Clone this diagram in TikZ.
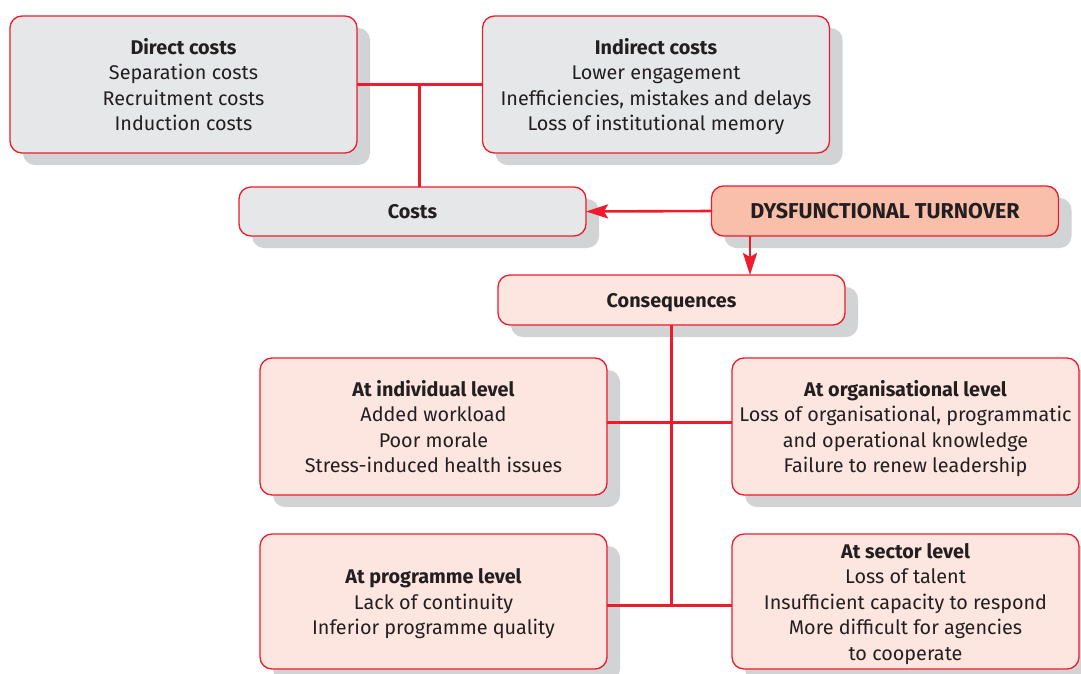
\documentclass[tikz,border=0pt]{standalone}
\usepackage{fontspec}
\setmainfont{Fira Sans}
\usetikzlibrary{shadows,arrows.meta,calc}
\definecolor{lineRed}{HTML}{EC1C2D}
\definecolor{boxGray}{HTML}{E6E7E8}
\definecolor{shadowGray}{HTML}{D1D3D4}
\definecolor{boxPink}{HTML}{FDE6DF}
\definecolor{boxSalmon}{HTML}{F9BFAB}
\definecolor{txt}{HTML}{231F20}
\tikzset{
  basebox/.style={rectangle, rounded corners=12pt, draw=lineRed, line width=1.3pt,
    inner sep=0pt, outer sep=0pt, align=center, text=txt, text depth=0pt,
    font=\fontsize{19.8}{25.5}\selectfont,
    drop shadow={shadow xshift=13pt, shadow yshift=-12pt, fill=shadowGray, opacity=1}},
  graybox/.style={basebox, fill=boxGray},
  pinkbox/.style={basebox, fill=boxPink},
  salmonbox/.style={basebox, fill=boxSalmon},
  bigbox/.style={minimum width=347pt, minimum height=137pt},
  smallbox/.style={minimum width=347pt, minimum height=49pt},
  conn/.style={draw=lineRed, line width=2.6pt},
  arr/.style={conn, -{Stealth[length=22pt,width=14pt,inset=4pt]}},
}
\begin{document}
\begin{tikzpicture}[x=1pt,y=-1pt]
\useasboundingbox (0,0) rectangle (1081,673);
\node[graybox,bigbox] (dc) at (183.5,84.5) {\textbf{Direct costs}\\Separation costs\\Recruitment costs\\Induction costs};
\node[graybox,bigbox] (ic) at (656,84.5) {\textbf{Indirect costs}\\Lower engagement\\Inefficiencies, mistakes and delays\\Loss of institutional memory};
\node[graybox,smallbox] (costs) at (412.5,211.5) {\textbf{Costs}};
\node[salmonbox,smallbox,minimum height=50pt,font=\fontsize{21.5}{25.5}\selectfont] (dt) at (885,211) {\textbf{DYSFUNCTIONAL TURNOVER}};
\node[pinkbox,smallbox,minimum height=50pt] (cons) at (671.5,300) {\textbf{Consequences}};
\node[pinkbox,bigbox] (ind) at (433.5,426.5) {\textbf{At individual level}\\Added workload\\Poor morale\\Stress-induced health issues};
\node[pinkbox,bigbox] (org) at (905.5,426.5) {\textbf{At organisational level}\\Loss of organisational, programmatic\\and operational knowledge\\Failure to renew leadership};
\node[pinkbox,bigbox,minimum height=135pt] (prog) at (433.5,601.5) {\textbf{At programme level}\\Lack of continuity\\Inferior programme quality};
\node[pinkbox,bigbox,minimum height=135pt] (sec) at (905.5,601.5) {\textbf{At sector level}\\Loss of talent\\Insufficient capacity to respond\\More difficult for agencies\\to cooperate};
% cost connectors
\draw[conn] (dc.east) -- (ic.west);
\coordinate (cj) at ($(dc.east)!0.5!(ic.west)$);
\draw[conn] (cj) -- (cj |- costs.north);
\draw[arr] (dt.west) -- (costs.east);
\coordinate (dtb) at ([xshift=-135pt]dt.south);
\draw[arr] (dtb) -- (dtb |- cons.north);
% consequence connectors
\coordinate (lj) at ([yshift=-4pt]cons.south |- prog.east);
\draw[conn] (cons.south) -- (lj);
\draw[conn] ([yshift=4pt]ind.east) -- ([yshift=4pt]org.west);
\draw[conn] ([yshift=-4pt]prog.east) -- ([yshift=-4pt]sec.west);
\end{tikzpicture}
\end{document}
